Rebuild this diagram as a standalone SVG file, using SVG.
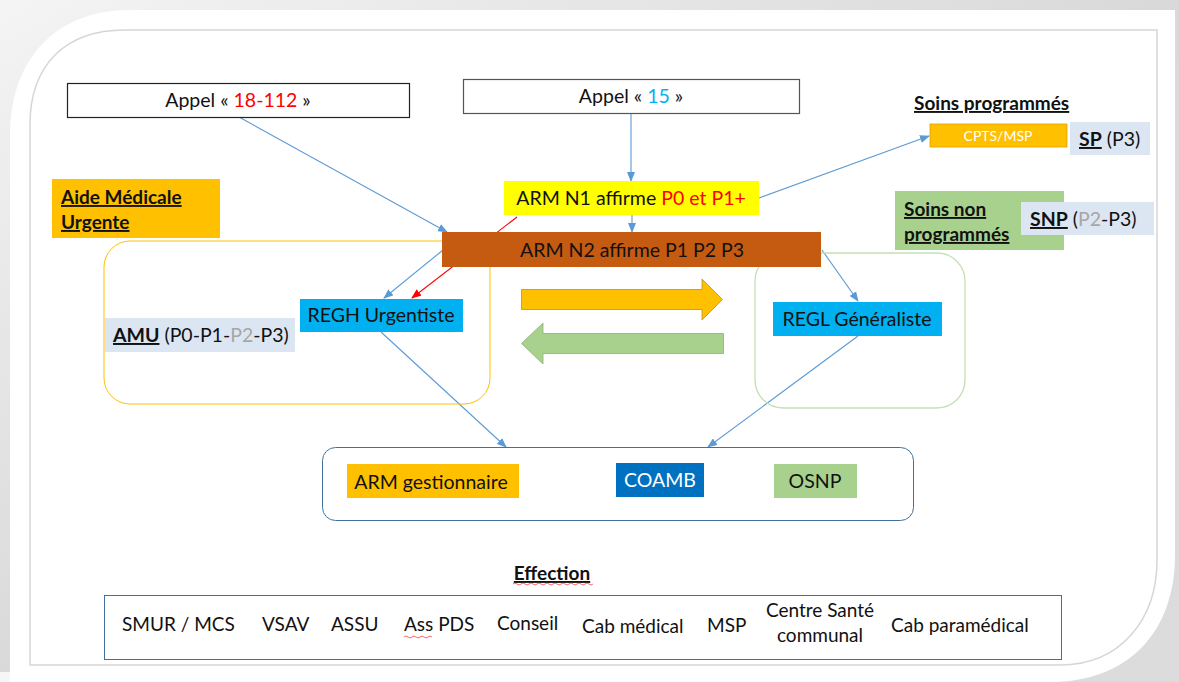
<svg xmlns="http://www.w3.org/2000/svg" width="1179" height="682" viewBox="0 0 1179 682">
<style>
text{font-family:Lato,"Open Sans","Liberation Sans",sans-serif;fill:#111;}
.t{font-size:19.5px;}
.e{font-size:19px;}
.h{font-size:19px;}
.b{font-weight:bold;text-decoration:underline;}
.con{stroke:#5b9bd5;stroke-width:1.1;fill:none;marker-end:url(#ab);}
</style>
<defs>
<marker id="ab" markerWidth="10" markerHeight="8" refX="9" refY="4" orient="auto" markerUnits="userSpaceOnUse"><path d="M0,0 L10,4 L0,8 Z" fill="#5b9bd5"/></marker>
<marker id="ar" markerWidth="10" markerHeight="8" refX="9" refY="4" orient="auto" markerUnits="userSpaceOnUse"><path d="M0,0 L10,4 L0,8 Z" fill="#ff0000"/></marker>
<linearGradient id="bg" x1="0" y1="0" x2="1" y2="1"><stop offset="0" stop-color="#f4f4f4"/><stop offset="0.5" stop-color="#d9d9d9"/><stop offset="1" stop-color="#dcdcdc"/></linearGradient>
</defs>
<g id="frame">
<rect width="1179" height="682" fill="url(#bg)"/>
<rect x="0" y="672" width="1060" height="10" fill="#f6f6f6"/>
<path d="M10,135 C10,60 55,10 130,10 H1175 V555 C1175,630 1130,682 1050,682 H10 Z" fill="#ffffff"/>
<path d="M30,125 C30,65 65,30 125,30 H1157 V560 C1157,620 1120,665 1060,665 H30 Z" fill="none" stroke="#d6d6d6" stroke-width="1.5"/>
</g>
<g id="connectors">
<line class="con" x1="631" y1="113" x2="631" y2="181"/>
<line class="con" x1="632" y1="215" x2="632" y2="232"/>
<line class="con" x1="239" y1="117" x2="447" y2="232"/>
<line class="con" x1="759" y1="198" x2="929" y2="136"/>
<line class="con" x1="443" y1="250" x2="384" y2="298"/>
<line x1="517" y1="217" x2="412" y2="298" stroke="#ff0000" stroke-width="1.1" marker-end="url(#ar)"/>
<line class="con" x1="822" y1="250" x2="858" y2="301"/>
<line class="con" x1="381" y1="332" x2="506" y2="447"/>
<line class="con" x1="858" y1="336" x2="708" y2="447"/>
</g>
<g id="amu-zone"><rect x="104" y="241" width="386" height="163" rx="26" fill="none" stroke="#ffc000" stroke-width="1"/></g>
<g id="snp-zone"><rect x="755" y="253" width="210" height="155" rx="28" fill="none" stroke="#c5e0b4" stroke-width="1.3"/></g>
<g id="appel18">
<rect x="67.5" y="83.5" width="342" height="34" fill="#fff" stroke="#222" stroke-width="1.2"/>
<text class="t" x="238" y="107" text-anchor="middle">Appel « <tspan fill="#ff0000">18-112</tspan> »</text>
</g>
<g id="appel15">
<rect x="463.5" y="79.5" width="336" height="34" fill="#fff" stroke="#555" stroke-width="1.2"/>
<text class="t" x="631" y="103" text-anchor="middle">Appel « <tspan fill="#00b0f0">15</tspan> »</text>
</g>
<g id="armn1">
<rect x="504" y="181" width="255" height="34" fill="#ffff00"/>
<text class="t" x="631" y="205" text-anchor="middle">ARM N1 affirme <tspan fill="#ff0000">P0 et P1+</tspan></text>
</g>
<g id="armn2">
<rect x="442" y="232" width="379" height="35" fill="#c55a11"/>
<text class="t" x="632" y="257" text-anchor="middle">ARM N2 affirme P1 P2 P3</text>
</g>
<g id="soins-programmes">
<text x="914" y="110" class="h b">Soins programmés</text>
</g>
<g id="cpts">
<rect x="930" y="124" width="137" height="23" fill="#ffc000" stroke="#d9a400" stroke-width="0.8"/>
<text x="998" y="141" font-size="14" text-anchor="middle" style="fill:#ffffff">CPTS/MSP</text>
</g>
<g id="sp">
<rect x="1070" y="122" width="80" height="33" fill="#dce6f2"/>
<text class="t" x="1079" y="146"><tspan class="b">SP</tspan> (P3)</text>
</g>
<g id="snp-label">
<rect x="895" y="191" width="169" height="59" fill="#a9d18e"/>
<text x="904" y="216" class="h b">Soins non</text>
<text x="904" y="241" class="h b">programmés</text>
</g>
<g id="snp">
<rect x="1021" y="202" width="133" height="33" fill="#dce6f2"/>
<text class="t" x="1030" y="226"><tspan class="b">SNP</tspan> (<tspan style="fill:#a6a6a6">P2</tspan>-P3)</text>
</g>
<g id="aide">
<rect x="52" y="179" width="168" height="59" fill="#ffc000"/>
<text x="61" y="204" class="h b">Aide Médicale</text>
<text x="61" y="229" class="h b">Urgente</text>
</g>
<g id="amu">
<rect x="105" y="318" width="190" height="34" fill="#dce6f2"/>
<text class="t" x="113" y="342"><tspan class="b">AMU</tspan> (P0-P1-<tspan style="fill:#a6a6a6">P2</tspan>-P3)</text>
</g>
<g id="regh">
<rect x="300" y="299" width="163" height="33" fill="#00b0f0"/>
<text class="t" x="381" y="322" text-anchor="middle">REGH Urgentiste</text>
</g>
<g id="regl">
<rect x="773" y="302" width="169" height="34" fill="#00b0f0"/>
<text class="t" x="857" y="326" text-anchor="middle">REGL Généraliste</text>
</g>
<g id="fleche-droite">
<path d="M521.5,289.5 H702 V279 L722.5,299.5 L702,320 V309.5 H521.5 Z" fill="#ffc000" stroke="#b89030" stroke-width="0.8"/>
</g>
<g id="fleche-gauche">
<path d="M723.5,333.5 H543 V323 L521.5,343.5 L543,364 V353.5 H723.5 Z" fill="#a9d18e" stroke="#8fae78" stroke-width="0.8"/>
</g>
<g id="gestion">
<rect x="322.5" y="447.5" width="591" height="73" rx="13" fill="none" stroke="#41719c" stroke-width="1"/>
</g>
<g id="arm-gest">
<rect x="347" y="464" width="172" height="34" fill="#ffc000"/>
<text class="t" x="431" y="489" text-anchor="middle">ARM gestionnaire</text>
</g>
<g id="coamb">
<rect x="616" y="463" width="88" height="34" fill="#0070c0"/>
<text class="t" x="660" y="487" text-anchor="middle" style="fill:#ffffff">COAMB</text>
</g>
<g id="osnp">
<rect x="774" y="464" width="83" height="34" fill="#a9d18e"/>
<text class="t" x="815" y="488" text-anchor="middle">OSNP</text>
</g>
<g id="effection">
<text x="552" y="580" class="h b" text-anchor="middle">Effection</text>
<path d="M513,584 q2,-2 4,0 t4,0 t4,0 t4,0 t4,0 t4,0 t4,0 t4,0 t4,0 t4,0 t4,0 t4,0 t4,0 t4,0 t4,0 t4,0 t4,0 t4,0 t4,0 t4,0" fill="none" stroke="#ff0000" stroke-width="0.6"/>
<rect x="104.5" y="595.5" width="957" height="64" fill="none" stroke="#41719c" stroke-width="1"/>
<text class="e" x="122" y="631">SMUR / MCS</text>
<text class="e" x="262" y="631">VSAV</text>
<text class="e" x="331" y="631">ASSU</text>
<text class="e" x="404" y="631">Ass PDS</text>
<path d="M404,637 q2,-2 4,0 t4,0 t4,0 t4,0 t4,0 t4,0 t4,0" fill="none" stroke="#ff0000" stroke-width="0.6"/>
<text class="e" x="497" y="630">Conseil</text>
<text class="e" x="582" y="633">Cab médical</text>
<text class="e" x="707" y="632">MSP</text>
<text class="e" x="820" y="617" text-anchor="middle">Centre Santé</text>
<text class="e" x="820" y="642" text-anchor="middle">communal</text>
<text class="e" x="891" y="632">Cab paramédical</text>
</g>
</svg>
